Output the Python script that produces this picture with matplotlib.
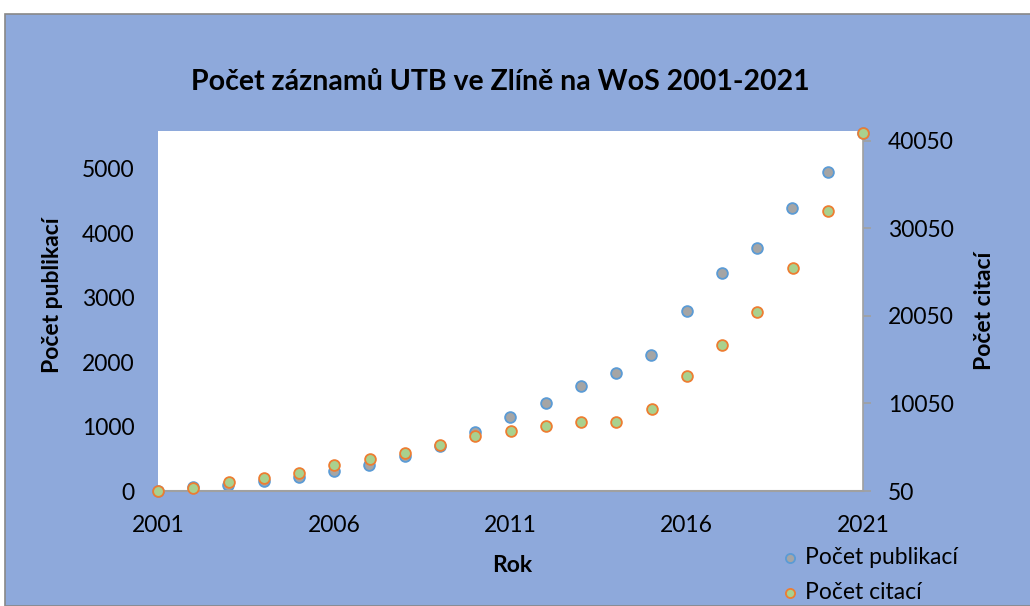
import matplotlib.pyplot as plt
from matplotlib.patches import Rectangle

# ---------------------------------------------------------------------------
# Data
# ---------------------------------------------------------------------------

years = list(range(2001, 2022))
publikace = [5, 65, 95, 155, 210, 310, 405, 545, 700, 920, 1155, 1370, 1625,
             1840, 2110, 2800, 3385, 3780, 4390, 4950, 5560]
citace = [100, 370, 1060, 1560, 2090, 3040, 3650, 4420, 5250, 6390, 6960,
          7500, 7880, 7910, 9400, 13210, 16680, 20560, 25510, 32070, 41000]

x_ticks = [2001, 2006, 2011, 2016, 2021]
left_ticks = [0, 1000, 2000, 3000, 4000, 5000]
right_ticks = [50, 10050, 20050, 30050, 40050]

# ---------------------------------------------------------------------------
# Style
# ---------------------------------------------------------------------------

BG = "#8EA9DB"
GREY = "#A0A0A0"
FONT = ["Lato", "DejaVu Sans"]
plt.rcParams["font.family"] = FONT

W, H = 1030, 606
fig = plt.figure(figsize=(W / 100, H / 100), dpi=100, facecolor="white")
fig.patches.append(Rectangle((5 / W, 0), 1, 1 - 14 / H, transform=fig.transFigure,
                             facecolor=BG, edgecolor="#888888", linewidth=1.2, zorder=-10))

left, right, top, bottom = 158, 863, 131, 491
ax = fig.add_axes([left / W, 1 - bottom / H, (right - left) / W, (bottom - top) / H])
ax.set_facecolor("white")
ax2 = ax.twinx()

ax.scatter(years, publikace, s=60, c="#A5A5A5", edgecolors="#5B9BD5", linewidths=1.3,
           zorder=3, clip_on=False, label="Počet publikací")
ax2.scatter(years, citace, s=60, c="#A9D18E", edgecolors="#ED7D31", linewidths=1.3,
            zorder=3, clip_on=False, label="Počet citací")

ax.set_xlim(2001, 2021)
ax.set_ylim(0, 5590)
ax2.set_ylim(50, 41190)
ax.set_xticks(x_ticks)
ax.set_yticks(left_ticks)
ax2.set_yticks(right_ticks)

for a in (ax, ax2):
    for s in a.spines.values():
        s.set_visible(False)
ax2.spines["right"].set_visible(True)
ax2.spines["right"].set_color(GREY)
ax2.spines["bottom"].set_visible(True)
ax2.spines["bottom"].set_color(GREY)
ax2.spines["bottom"].set_linewidth(1.5)
ax2.spines["right"].set_linewidth(1.2)

ax.tick_params(axis="y", length=0, labelsize=16.5, pad=17)
ax.tick_params(axis="x", length=0, labelsize=16.5, pad=17)
ax2.tick_params(axis="y", length=6, color=GREY, width=1.2, labelsize=16.5, pad=12)

ax.set_xlabel("Rok", fontsize=16.5, fontweight="bold")
ax.set_ylabel("Počet publikací", fontsize=16.5, fontweight="bold")
ax2.set_ylabel("Počet citací", fontsize=16.5, fontweight="bold")
ax.xaxis.set_label_coords((512 - left) / (right - left), (bottom - 566) / (bottom - top))
ax.yaxis.set_label_coords((53 - left) / (right - left), (bottom - 295) / (bottom - top))
ax2.yaxis.set_label_coords((985 - left) / (right - left), 0.5)
ax.xaxis.label.set_va("center")
ax.yaxis.label.set_va("center")
ax2.yaxis.label.set_va("center")

fig.text(500 / W, 1 - 82 / H, "Počet záznamů UTB ve Zlíně na WoS 2001-2021",
         ha="center", va="center", fontsize=20.5, fontweight="bold")

h1, l1 = ax.get_legend_handles_labels()
h2, l2 = ax2.get_legend_handles_labels()
fig.legend(h1 + h2, l1 + l2, loc="center left", bbox_to_anchor=(758 / W, 1 - 575 / H),
           frameon=False, fontsize=16.5, handletextpad=-0.35, labelspacing=0.62,
           markerscale=0.85, borderaxespad=0)

fig.savefig("out.png", dpi=100, facecolor="white")
